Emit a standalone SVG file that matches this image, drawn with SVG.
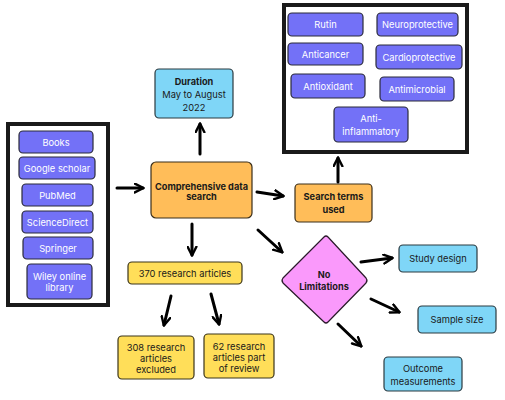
<svg xmlns="http://www.w3.org/2000/svg" width="505" height="400" viewBox="0 0 505 400">
<defs>
<marker id="ah" viewBox="0 0 10 10" refX="8.5" refY="5" markerWidth="11" markerHeight="11" markerUnits="userSpaceOnUse" orient="auto">
<path d="M1,1 L9,5 L1,9" fill="none" stroke="#000" stroke-width="2.2" stroke-linecap="round" stroke-linejoin="round"/>
</marker>
</defs>
<style>
text{font-family:Inter,"Noto Sans",sans-serif;font-size:9.3px;text-anchor:middle}
.frame{fill:#fff;stroke:#1a1a1a;stroke-width:4}
.pur rect{fill:#7371f7;stroke:#2b2b3a;stroke-width:1.2}
.pur text{fill:#fff}
.blue rect{fill:#7fd6f7;stroke:#2b3a40;stroke-width:1.2}
.org rect{fill:#ffbd59;stroke:#3a2e1a;stroke-width:1.2}
.yel rect{fill:#ffde59;stroke:#3a341a;stroke-width:1.2}
.b{font-weight:bold;font-size:9.2px}
.dk{fill:#1a1a1a}
#conn line{stroke:#000;stroke-width:3;stroke-linecap:round;marker-end:url(#ah)}
</style>
<rect width="505" height="400" fill="#fff"/>

<rect class="frame" x="8" y="124" width="100" height="181"/>
<rect class="frame" x="284" y="5" width="183" height="147"/>

<g id="books" class="pur"><rect x="19" y="131" width="74" height="22" rx="4"/><text x="56" y="145.5">Books</text></g>
<g id="google" class="pur"><rect x="19" y="157" width="76" height="22" rx="4"/><text x="57" y="171.5">Google scholar</text></g>
<g id="pubmed" class="pur"><rect x="22" y="184" width="71" height="22" rx="4"/><text x="57.5" y="198.5">PubMed</text></g>
<g id="sciencedirect" class="pur"><rect x="22" y="211" width="71" height="22" rx="4"/><text x="57.5" y="225.5">ScienceDirect</text></g>
<g id="springer" class="pur"><rect x="23" y="237" width="70" height="22" rx="4"/><text x="58" y="251.5">Springer</text></g>
<g id="wiley" class="pur"><rect x="27" y="264" width="65" height="35" rx="4"/><text x="59.5" y="279.5">Wiley online</text><text x="59.5" y="291">library</text></g>

<g id="rutin" class="pur"><rect x="288" y="13" width="75" height="23" rx="4"/><text x="325.5" y="28">Rutin</text></g>
<g id="neuro" class="pur"><rect x="377" y="13" width="81" height="23" rx="4"/><text x="417.5" y="28">Neuroprotective</text></g>
<g id="anticancer" class="pur"><rect x="288" y="43" width="75" height="22" rx="4"/><text x="325.5" y="57.5">Anticancer</text></g>
<g id="cardio" class="pur"><rect x="376" y="45" width="86" height="24" rx="4"/><text x="419" y="60.5">Cardioprotective</text></g>
<g id="antioxidant" class="pur"><rect x="291" y="74" width="74" height="24" rx="4"/><text x="328" y="89.5">Antioxidant</text></g>
<g id="antimicrobial" class="pur"><rect x="380" y="77" width="74" height="24" rx="4"/><text x="417" y="92.5">Antimicrobial</text></g>
<g id="antiinflam" class="pur"><rect x="334" y="107" width="74" height="35" rx="4"/><text x="371" y="121.5">Anti-</text><text x="371" y="134.5">inflammatory</text></g>

<g id="duration" class="blue"><rect x="155" y="69" width="78" height="49" rx="4"/><text class="dk b" x="194" y="84.5">Duration</text><text class="dk" x="194" y="97.5">May to August</text><text class="dk" x="194" y="110.5">2022</text></g>
<g id="comprehensive" class="org"><rect x="151" y="162" width="101" height="56" rx="5"/><text class="dk b" x="201.5" y="189.5">Comprehensive data</text><text class="dk b" x="201.5" y="200">search</text></g>
<g id="searchterms" class="org"><rect x="295" y="184" width="77" height="38" rx="4"/><text class="dk b" x="333.5" y="199.5">Search terms</text><text class="dk b" x="333.5" y="212.5">used</text></g>
<g id="nolimit"><path d="M324,237 Q326,235 328,237 L366,278 Q368,280.5 366,283 L328,322 Q326,324 324,322 L283,283 Q281,280.5 283,278 Z" fill="#fa99fb" stroke="#2a1a2a" stroke-width="1.2"/><text class="dk b" x="324" y="277.5">No</text><text class="dk b" x="324" y="289.5">Limitations</text></g>
<g id="studydesign" class="blue"><rect x="399" y="245" width="78" height="27" rx="4"/><text class="dk" x="438" y="262">Study design</text></g>
<g id="samplesize" class="blue"><rect x="418" y="306" width="78" height="27" rx="4"/><text class="dk" x="457" y="323">Sample size</text></g>
<g id="outcome" class="blue"><rect x="384" y="357" width="78" height="34" rx="4"/><text class="dk" x="423" y="371.5">Outcome</text><text class="dk" x="423" y="384.5">measurements</text></g>
<g id="n370" class="yel"><rect x="128" y="262" width="114" height="22" rx="4"/><text class="dk" x="185" y="276.5">370 research articles</text></g>
<g id="n308" class="yel"><rect x="118" y="336" width="76" height="43" rx="4"/><text class="dk" x="156" y="350.5">308 research</text><text class="dk" x="156" y="362">articles</text><text class="dk" x="156" y="373">excluded</text></g>
<g id="n62" class="yel"><rect x="204" y="334" width="70" height="44" rx="4"/><text class="dk" x="239" y="349.5">62 research</text><text class="dk" x="239" y="360.5">articles part</text><text class="dk" x="239" y="371.5">of review</text></g>

<g id="conn">
<line x1="117" y1="188" x2="143" y2="188"/>
<line x1="200" y1="154" x2="200" y2="124"/>
<line x1="257" y1="192" x2="283" y2="196"/>
<line x1="338" y1="182" x2="338" y2="158"/>
<line x1="192" y1="224" x2="192" y2="255"/>
<line x1="258" y1="230" x2="282" y2="252"/>
<line x1="361" y1="262" x2="392" y2="258"/>
<line x1="371" y1="299" x2="399" y2="312"/>
<line x1="338" y1="324" x2="361" y2="346"/>
<line x1="171" y1="296" x2="164" y2="325"/>
<line x1="211" y1="294" x2="219" y2="324"/>
</g>
</svg>
